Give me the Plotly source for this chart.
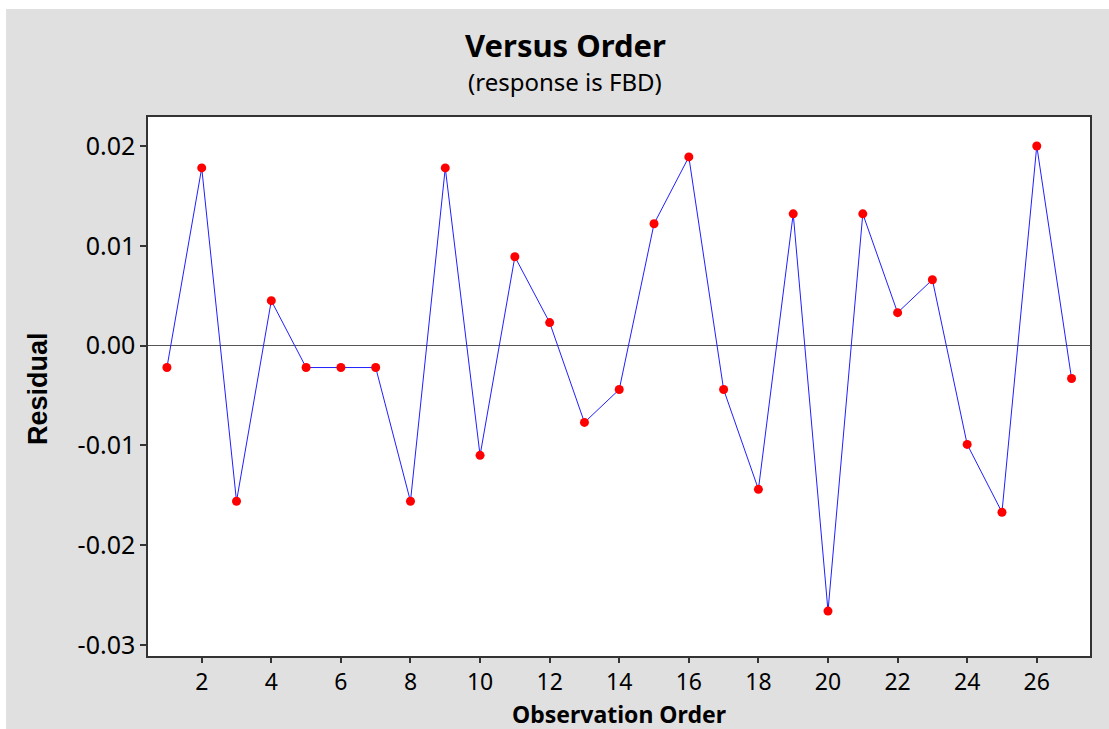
import plotly.graph_objects as go

order = list(range(1, 28))
residuals = [-0.0022, 0.0178, -0.0156, 0.0045, -0.0022, -0.0022, -0.0022, -0.0156, 0.0178,
             -0.0110, 0.0089, 0.0023, -0.0077, -0.0044, 0.0122, 0.0189, -0.0044, -0.0144,
             0.0132, -0.0266, 0.0132, 0.0033, 0.0066, -0.0099, -0.0167, 0.0200, -0.0033]
x_ticks = list(range(2, 27, 2))
y_ticks = [-0.03, -0.02, -0.01, 0.00, 0.01, 0.02]
y_tick_text = ["-0.03", "-0.02", "-0.01", "0.00", "0.01", "0.02"]

fig = go.Figure()
fig.add_trace(go.Scatter(
    x=order, y=residuals, mode="lines+markers",
    line=dict(color="#1f1fff", width=1),
    marker=dict(color="#ff0000", size=9),
    showlegend=False, hoverinfo="x+y",
))

fig.update_layout(
    width=1109, height=729,
    margin=dict(l=148, r=19, t=117, b=73),
    paper_bgcolor="#e0e0e0",
    plot_bgcolor="#ffffff",
    xaxis=dict(range=[0.456, 27.53], tickvals=x_ticks, ticks="outside", ticklen=5,
               tickcolor="#333", tickwidth=1.5, showgrid=False, zeroline=False,
               showline=True, linecolor="#333", linewidth=1.5, mirror=True,
               tickfont=dict(family="Noto Sans", size=23, color="#000")),
    yaxis=dict(range=[-0.0311, 0.0229], tickvals=y_ticks, ticktext=y_tick_text,
               ticks="outside", ticklen=6, tickcolor="#333", tickwidth=1.5, showgrid=False,
               zeroline=True, zerolinecolor="#555", zerolinewidth=1,
               showline=True, linecolor="#333", linewidth=1.5, mirror=True,
               tickfont=dict(family="Noto Sans", size=25, color="#000")),
    shapes=[
        dict(type="rect", xref="paper", yref="paper", x0=-0.16, x1=-0.1507, y0=-0.2, y1=1.25,
             fillcolor="#ffffff", line=dict(width=0), layer="below"),
        dict(type="rect", xref="paper", yref="paper", x0=-0.16, x1=1.05, y0=1.2004, y1=1.25,
             fillcolor="#ffffff", line=dict(width=0), layer="below"),
    ],
    annotations=[
        dict(text="<b>Versus Order</b>", xref="paper", yref="paper", x=0.4437, y=1.1336,
             showarrow=False, xanchor="center", yanchor="middle",
             font=dict(family="Noto Sans", size=31, color="#000")),
        dict(text="(response is FBD)", xref="paper", yref="paper", x=0.4426, y=1.065,
             showarrow=False, xanchor="center", yanchor="middle",
             font=dict(family="Noto Sans", size=24, color="#000")),
        dict(text="<b>Observation Order</b>", xref="paper", yref="paper", x=0.5, y=-0.1085,
             showarrow=False, xanchor="center", yanchor="middle",
             font=dict(family="Noto Sans", size=23, color="#000")),
        dict(text="<b>Residual</b>", xref="paper", yref="paper", x=-0.1168, y=0.497,
             showarrow=False, xanchor="center", yanchor="middle", textangle=-90,
             font=dict(family="Liberation Sans", size=27, color="#000")),
    ],
)

fig.write_html("out.html")
